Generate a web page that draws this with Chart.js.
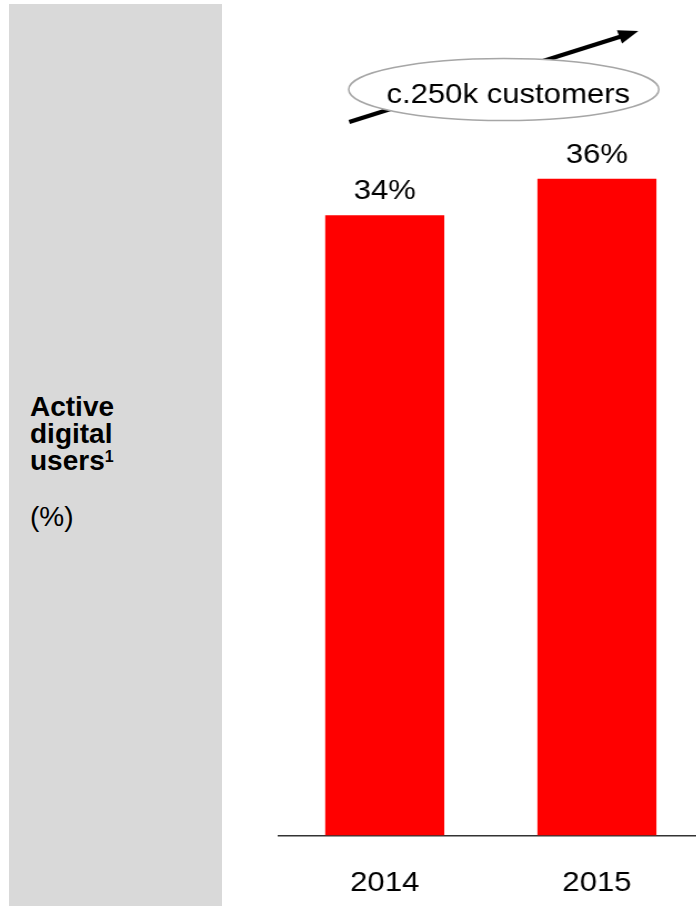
<!DOCTYPE html>
<html>
<head>
<meta charset="utf-8">
<script src="https://cdn.jsdelivr.net/npm/chart.js@4"></script>
<style>
  body { margin: 0; background: #fff; }
  #wrap { position: relative; width: 696px; height: 906px; overflow: hidden; }
  #panel { position: absolute; left: 9px; top: 4px; width: 213px; height: 902px; background: #d9d9d9; }
  .side { position: absolute; left: 30px; font-family: "Liberation Sans", Arial, sans-serif; font-size: 28px; line-height: 27px; color: #000; }
  #titulo { top: 393px; font-weight: bold; }
  #titulo span { font-size: 16px; position: relative; top: -8px; }
  #unidad { top: 503px; }
  #grafica { position: absolute; left: 0; top: 0; }
</style>
</head>
<body>
<div id="wrap">
  <div id="panel"></div>
  <div class="side" id="titulo">Active<br>digital<br>users<span>1</span></div>
  <div class="side" id="unidad">(%)</div>
  <!-- el canvas se estira en horizontal (x1.11) y sobresale un poco por la derecha -->
  <canvas id="grafica" width="633" height="906" style="width:702.63px;height:906px"></canvas>
</div>
<script>
const anios = ["2014", "2015"];
const usuariosActivos = [34, 36];
const notaClientes = "c.250k customers";

// factor de estiramiento horizontal del canvas
const S = 1.11;
const fuente = '"Liberation Sans", Arial, sans-serif';

// etiquetas de valor encima de cada barra
const etiquetasValor = {
  id: "etiquetasValor",
  afterDatasetsDraw(chart) {
    const ctx = chart.ctx;
    const meta = chart.getDatasetMeta(0);
    ctx.save();
    ctx.font = "28px " + fuente;
    ctx.fillStyle = "#000";
    ctx.textAlign = "center";
    ctx.textBaseline = "alphabetic";
    meta.data.forEach((barra, i) => {
      ctx.fillText(usuariosActivos[i] + "%", barra.x, barra.y - 16);
    });
    ctx.restore();
  }
};

// flecha de crecimiento con el globo de clientes
const flechaClientes = {
  id: "flechaClientes",
  afterDraw(chart) {
    const ctx = chart.ctx;
    const x1 = 349 / S, y1 = 122;
    const x2 = 638 / S, y2 = 31;
    const ang = Math.atan2(y2 - y1, x2 - x1);
    const largo = 18, ancho = 7;
    ctx.save();
    ctx.strokeStyle = "#000";
    ctx.lineWidth = 4;
    ctx.beginPath();
    ctx.moveTo(x1, y1);
    ctx.lineTo(x2 - Math.cos(ang) * largo * 0.8, y2 - Math.sin(ang) * largo * 0.8);
    ctx.stroke();
    ctx.fillStyle = "#000";
    ctx.beginPath();
    ctx.moveTo(x2, y2);
    ctx.lineTo(x2 - Math.cos(ang) * largo - Math.sin(ang) * ancho, y2 - Math.sin(ang) * largo + Math.cos(ang) * ancho);
    ctx.lineTo(x2 - Math.cos(ang) * largo + Math.sin(ang) * ancho, y2 - Math.sin(ang) * largo - Math.cos(ang) * ancho);
    ctx.closePath();
    ctx.fill();

    // globo
    ctx.beginPath();
    ctx.ellipse(503.5 / S, 89.5, 155 / S, 31, 0, 0, Math.PI * 2);
    ctx.fillStyle = "#fff";
    ctx.fill();
    ctx.strokeStyle = "#a6a6a6";
    ctx.lineWidth = 1.5;
    ctx.stroke();

    ctx.font = "28px " + fuente;
    ctx.fillStyle = "#000";
    ctx.textAlign = "center";
    ctx.textBaseline = "alphabetic";
    ctx.fillText(notaClientes, 508 / S, 103);
    ctx.restore();
  }
};

new Chart(document.getElementById("grafica"), {
  type: "bar",
  data: {
    labels: anios,
    datasets: [{
      data: usuariosActivos,
      backgroundColor: "#ff0000",
      borderWidth: 0,
      categoryPercentage: 1,
      barPercentage: 0.561,
    }],
  },
  options: {
    responsive: false,
    animation: false,
    devicePixelRatio: 1,
    layout: {
      padding: { left: 278.5 / S, right: 0, top: 0, bottom: -25 },
    },
    plugins: {
      legend: { display: false },
      tooltip: { enabled: false },
    },
    scales: {
      x: {
        grid: { display: false, drawTicks: false },
        border: { display: true, color: "#333", width: 1.5 },
        ticks: {
          color: "#000",
          font: { family: fuente, size: 28 },
          padding: 31,
          maxRotation: 0,
          autoSkip: false,
        },
      },
      y: {
        display: false,
        min: 0,
        max: 45.8,
      },
    },
  },
  plugins: [etiquetasValor, flechaClientes],
});
</script>
</body>
</html>
